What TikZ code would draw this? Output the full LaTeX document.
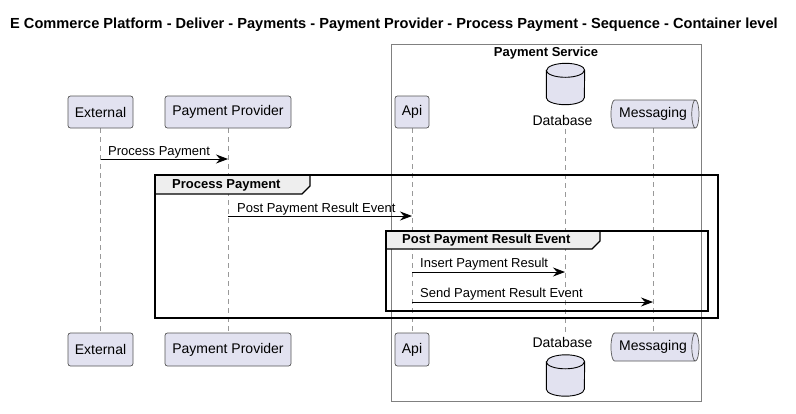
\documentclass[tikz,border=0pt]{standalone}
\usepackage{fontspec}
\setmainfont{Liberation Sans}
\usetikzlibrary{shapes.geometric,arrows.meta}
\definecolor{boxfill}{HTML}{E2E2F0}
\definecolor{boxline}{HTML}{555555}
\definecolor{tabfill}{HTML}{EEEEEE}
\tikzset{
  part/.style={draw=boxline,fill=boxfill,rounded corners=2.5pt,inner sep=0pt,line width=0.7pt,font=\fontsize{14}{16}\selectfont},
  dbbox/.style={inner sep=0pt,minimum width=38pt,minimum height=41pt},
  dbline/.style={draw=black,fill=boxfill,line width=0.9pt},
  queueshape/.style={cylinder,draw=boxline,fill=boxfill,line width=0.7pt,minimum width=28pt,minimum height=88pt,aspect=0.55,inner sep=0pt,font=\fontsize{14}{16}\selectfont},
  lifeline/.style={draw=gray!80,dash pattern=on 5pt off 4pt,line width=0.6pt},
  msg/.style={-{Stealth[length=12pt,width=9pt,inset=4pt]},line width=0.8pt,black},
  msglabel/.style={font=\fontsize{13}{15}\selectfont,anchor=base west,inner sep=0pt},
  frame/.style={draw=black,line width=1.4pt},
  tablabel/.style={font=\bfseries\fontsize{13}{15}\selectfont,anchor=west,inner sep=0pt},
}
\newcommand{\dbcyl}[1]{%
  \path[dbline] ([yshift=-7pt]#1.north west) -- ([yshift=7pt]#1.south west)
    arc[start angle=180,end angle=360,x radius=19pt,y radius=7pt]
    -- ([yshift=-7pt]#1.north east)
    arc[start angle=0,end angle=180,x radius=19pt,y radius=7pt] -- cycle;
  \draw[line width=0.9pt] ([yshift=-7pt]#1.north west)
    arc[start angle=180,end angle=360,x radius=19pt,y radius=7pt];
}
\begin{document}
\begin{tikzpicture}[x=1pt,y=1pt]
\useasboundingbox (0,0) rectangle (796,-413);
% title
\node[anchor=west,inner sep=0pt,font=\bfseries\fontsize{14.6}{16}\selectfont] (title) at (10,-25) {E Commerce Platform - Deliver - Payments - Payment Provider - Process Payment - Sequence - Container level};
% payment service box
\node[draw=gray,line width=0.7pt,minimum width=310pt,minimum height=357pt,inner sep=0pt] (svc) at (546,-222.5) {};
\node[font=\bfseries\fontsize{13}{15}\selectfont,inner sep=0pt] (svctitle) at (546,-53) {Payment Service};
% lifeline coordinates
\coordinate (ext-top) at (100.5,-128); \coordinate (ext-bot) at (100.5,-333);
\coordinate (pp-top) at (228,-128); \coordinate (pp-bot) at (228,-333);
\coordinate (api-top) at (412,-128); \coordinate (api-bot) at (412,-333);
\coordinate (db-top) at (565,-129); \coordinate (db-bot) at (565,-333);
\coordinate (mq-top) at (653,-128); \coordinate (mq-bot) at (653,-333);
\draw[lifeline] (ext-top) -- (ext-bot);
\draw[lifeline] (pp-top) -- (pp-bot);
\draw[lifeline] (api-top) -- (api-bot);
\draw[lifeline] (db-top) -- (db-bot);
\draw[lifeline] (mq-top) -- (mq-bot);
% top participants
\node[part,minimum width=65pt,minimum height=32pt] (ext1) at (100.5,-112) {External};
\node[part,minimum width=126pt,minimum height=32pt] (pp1) at (228,-112) {Payment Provider};
\node[part,minimum width=34pt,minimum height=32pt] (api1) at (412,-112) {Api};
\node[dbbox] (db1) at (565.5,-84) {};
\dbcyl{db1}
\node[inner sep=0pt,font=\fontsize{14}{16}\selectfont] (db1l) at (562.5,-120) {Database};
\node[queueshape] (mq1) at (653,-114) {Messaging};
% bottom participants
\node[part,minimum width=65pt,minimum height=33pt] (ext2) at (100.5,-349.5) {External};
\node[part,minimum width=126pt,minimum height=33pt] (pp2) at (228,-349.5) {Payment Provider};
\node[part,minimum width=34pt,minimum height=33pt] (api2) at (412,-349.5) {Api};
\node[inner sep=0pt,font=\fontsize{14}{16}\selectfont] (db2l) at (562.5,-342) {Database};
\node[dbbox] (db2) at (565.5,-375.5) {};
\dbcyl{db2}
\node[queueshape] (mq2) at (653,-347) {Messaging};
% message coordinates
\coordinate (m1s) at (100.5,-159); \coordinate (m1e) at (228,-159);
\coordinate (m2s) at (228,-216); \coordinate (m2e) at (412,-216);
\coordinate (m3s) at (412,-272); \coordinate (m3e) at (565,-272);
\coordinate (m4s) at (412,-302); \coordinate (m4e) at (653,-302);
% outer frame
\coordinate (f1a) at (155,-175); \coordinate (f1b) at (718,-318);
\fill[tabfill] (155,-175) -- (310,-175) -- (310,-186) -- (302,-194) -- (155,-194) -- cycle;
\draw[frame] (155,-194) -- (302,-194) -- (310,-186) -- (310,-175);
\draw[frame] (f1a) rectangle (f1b);
\node[tablabel] (f1l) at (172,-185) {Process Payment};
% inner frame
\coordinate (f2a) at (386,-231); \coordinate (f2b) at (708,-311);
\fill[tabfill] (386,-231) -- (600,-231) -- (600,-241) -- (592,-249) -- (386,-249) -- cycle;
\draw[frame] (386,-249) -- (592,-249) -- (600,-241) -- (600,-231);
\draw[frame] (f2a) rectangle (f2b);
\node[tablabel] (f2l) at (402,-240) {Post Payment Result Event};
% messages
\draw[msg] (m1s) -- (m1e);
\node[msglabel] (m1l) at (108,-155) {Process Payment};
\draw[msg] (m2s) -- (m2e);
\node[msglabel] (m2l) at (237,-212) {Post Payment Result Event};
\draw[msg] (m3s) -- (m3e);
\node[msglabel] (m3l) at (420,-267) {Insert Payment Result};
\draw[msg] (m4s) -- (m4e);
\node[msglabel] (m4l) at (420,-297) {Send Payment Result Event};
\end{tikzpicture}
\end{document}
